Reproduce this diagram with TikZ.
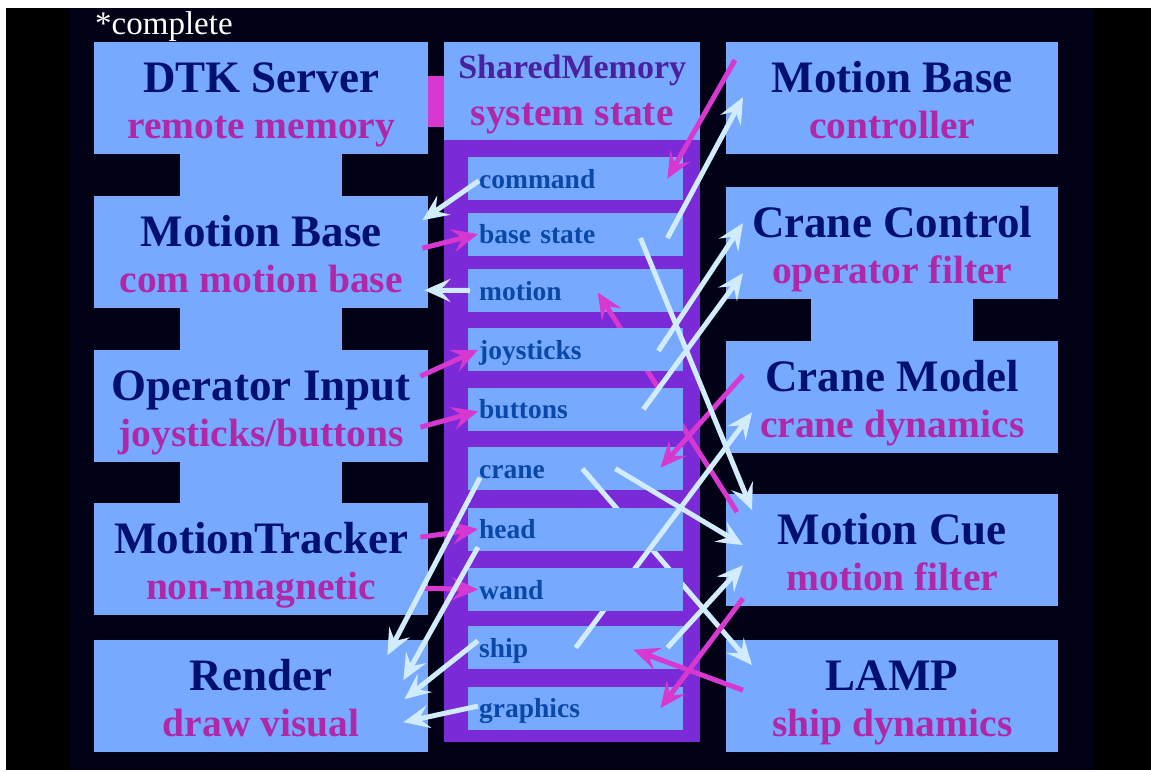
\documentclass[tikz,border=0pt]{standalone}
\usepackage{fontspec}
\setmainfont{Liberation Serif}
\usetikzlibrary{arrows.meta,positioning}

\definecolor{slide}{RGB}{2,2,22}
\definecolor{boxblue}{RGB}{119,170,255}
\definecolor{navy}{RGB}{0,16,112}
\definecolor{plum}{RGB}{176,40,168}
\definecolor{shmpurple}{RGB}{122,42,214}
\definecolor{shmtext}{RGB}{72,32,160}
\definecolor{slottext}{RGB}{10,72,168}
\definecolor{mgarrow}{RGB}{214,56,208}
\definecolor{lcarrow}{RGB}{210,236,255}

\begin{document}
\begin{tikzpicture}[x=1pt,y=-1pt,>={Stealth[length=26pt,width=23pt,inset=10pt]},
    box/.style={fill=boxblue,inner sep=0pt,minimum width=334pt,text height=50pt,text depth=62pt,
      anchor=north west,text=navy,font=\bfseries\fontsize{45}{54}\selectfont},
    sub/.style={anchor=base,inner sep=0pt,text=plum,font=\bfseries\fontsize{39.5}{46}\selectfont},
    slot/.style={fill=boxblue,inner xsep=11pt,inner ysep=0pt,text width=193pt,align=left,
      text height=31pt,text depth=12pt,text=slottext,font=\bfseries\fontsize{27.5}{33}\selectfont},
    mg/.style={color=mgarrow,line width=5pt},
    lc/.style={color=lcarrow,line width=5pt}]
  \useasboundingbox (0,0) rectangle (1151,771);
  \fill[white] (0,0) rectangle (1151,771);
  \fill[black] (6,8) rectangle (1151,770);
  \fill[slide] (70,8) rectangle (1093,770);

  \node[anchor=base west,inner sep=0pt,text=white,font=\fontsize{33}{40}\selectfont] (done) at (95,34) {*complete};

  \fill[boxblue] (180,154) rectangle (342,196);
  \fill[boxblue] (180,308) rectangle (342,350);
  \fill[boxblue] (180,462) rectangle (342,503);
  \fill[boxblue] (811,299) rectangle (973,341);
  \fill[mgarrow] (428,76) rectangle (444,127);

  \node[box] (dtk) at (94,42) {DTK Server};
  \node[sub] (dtkS) at ([yshift=-96pt]dtk.north) {remote memory};
  \node[box] (mbl) at (94,196) {Motion Base};
  \node[sub] (mblS) at ([yshift=-96pt]mbl.north) {com motion base};
  \node[box] (opin) at (94,350) {Operator Input};
  \node[sub] (opinS) at ([yshift=-96pt]opin.north) {joysticks/buttons};
  \node[box] (mtrk) at (94,503) {MotionTracker};
  \node[sub] (mtrkS) at ([yshift=-96pt]mtrk.north) {non-magnetic};
  \node[box] (rend) at (94,640) {Render};
  \node[sub] (rendS) at ([yshift=-96pt]rend.north) {draw visual};

  \node[box,minimum width=332pt] (mbr) at (726,42) {Motion Base};
  \node[sub] (mbrS) at ([yshift=-96pt]mbr.north) {controller};
  \node[box,minimum width=332pt] (crc) at (726,187) {Crane Control};
  \node[sub] (crcS) at ([yshift=-96pt]crc.north) {operator filter};
  \node[box,minimum width=332pt] (crm) at (726,341) {Crane Model};
  \node[sub] (crmS) at ([yshift=-96pt]crm.north) {crane dynamics};
  \node[box,minimum width=332pt] (mcue) at (726,494) {Motion Cue};
  \node[sub] (mcueS) at ([yshift=-96pt]mcue.north) {motion filter};
  \node[box,minimum width=332pt] (lamp) at (726,640) {LAMP};
  \node[sub] (lampS) at ([yshift=-96pt]lamp.north) {ship dynamics};

  \node[box,minimum width=256pt,text height=36pt,text depth=62pt,text=shmtext,
    font=\bfseries\fontsize{34}{40}\selectfont] (shm) at (444,42) {SharedMemory};
  \node[sub] (shmS) at ([yshift=-83pt]shm.north) {system state};
  \fill[shmpurple] (444,140) rectangle (700,742);

  \node[slot,anchor=north west] (cmd) at (468,157) {command};
  \node[slot,below=12pt of cmd] (bst) {base state};
  \node[slot,below=13pt of bst] (mot) {motion};
  \node[slot,anchor=north west] (crn) at (468,447) {crane};
  \node[slot,anchor=north west] (shp) at (468,626) {ship};
  \node[slot,below=17pt of shp] (gfx) {graphics};

  \path[->,mg]
  ([xshift=11pt,yshift=-18pt]mcue.north west) edge ([xshift=22pt,yshift=-2pt]mot.center);
  \path[->,lc]
  ([xshift=-101pt]crn.east) edge ([xshift=26pt,yshift=-25pt]lamp.north west);

  \node[slot,below=17pt of crn] (hd) {head};
  \path[->,lc]
  (shp.center) edge ([xshift=26pt,yshift=41pt]crm.south west);
  \node[slot,below=17pt of hd] (wnd) {wand};
  \node[slot,below=16pt of mot] (joy) {joysticks};
  \node[slot,below=16pt of joy] (btn) {buttons};

  \path[->,mg]
  ([xshift=9pt,yshift=-18pt]mbr.north west) edge ([xshift=-16pt]cmd.east)
  ([xshift=-6pt,yshift=4pt]mbl.east) edge ([xshift=10pt]bst.west)
  ([xshift=-8pt,yshift=30pt]opin.east) edge ([xshift=10pt]joy.west)
  ([xshift=-8pt,yshift=-21pt]opin.east) edge ([xshift=10pt,yshift=-2pt]btn.west)
  ([xshift=-8pt,yshift=22pt]mtrk.east) edge ([xshift=10pt]hd.west)
  ([xshift=-5pt,yshift=-29pt]mtrk.east) edge ([xshift=10pt]wnd.west)
  ([xshift=17pt,yshift=-34pt]crm.north west) edge ([xshift=-23pt,yshift=1pt]crn.east)
  ([xshift=17pt,yshift=8pt]mcue.south west) edge ([xshift=-23pt]gfx.east)
  ([xshift=17pt,yshift=6pt]lamp.west) edge ([xshift=-50pt,yshift=-2pt]shp.east);

  \path[->,lc]
  ([xshift=11pt,yshift=-2pt]cmd.west) edge ([xshift=-6pt,yshift=32pt]mbl.east)
  ([xshift=2pt]mot.west) edge ([xshift=-4pt,yshift=-38pt]mbl.east)
  ([xshift=-16pt,yshift=-4pt]bst.east) edge ([xshift=17pt,yshift=1pt]mbr.west)
  ([xshift=-43pt,yshift=-4pt]bst.east) edge ([xshift=26pt,yshift=-16pt]mcue.north west)
  ([xshift=-25pt,yshift=-1pt]joy.east) edge ([xshift=17pt,yshift=20pt]crc.west)
  ([xshift=-40pt]btn.east) edge ([xshift=17pt,yshift=-30pt]crc.west)
  ([xshift=-68pt]crn.east) edge ([xshift=17pt,yshift=5pt]mcue.west)
  ([xshift=12pt,yshift=-9pt]crn.west) edge ([xshift=-41pt,yshift=41pt]rend.east)
  ([xshift=10pt,yshift=-18pt]hd.west) edge ([xshift=-25pt,yshift=16pt]rend.east)
  ([xshift=10pt,yshift=7pt]shp.west) edge ([xshift=-24pt,yshift=-3pt]rend.east)
  ([xshift=10pt,yshift=2pt]gfx.west) edge ([xshift=-25pt,yshift=-26pt]rend.east)
  ([xshift=-16pt]shp.east) edge ([xshift=17pt,yshift=-15pt]mcue.west);
\end{tikzpicture}
\end{document}
